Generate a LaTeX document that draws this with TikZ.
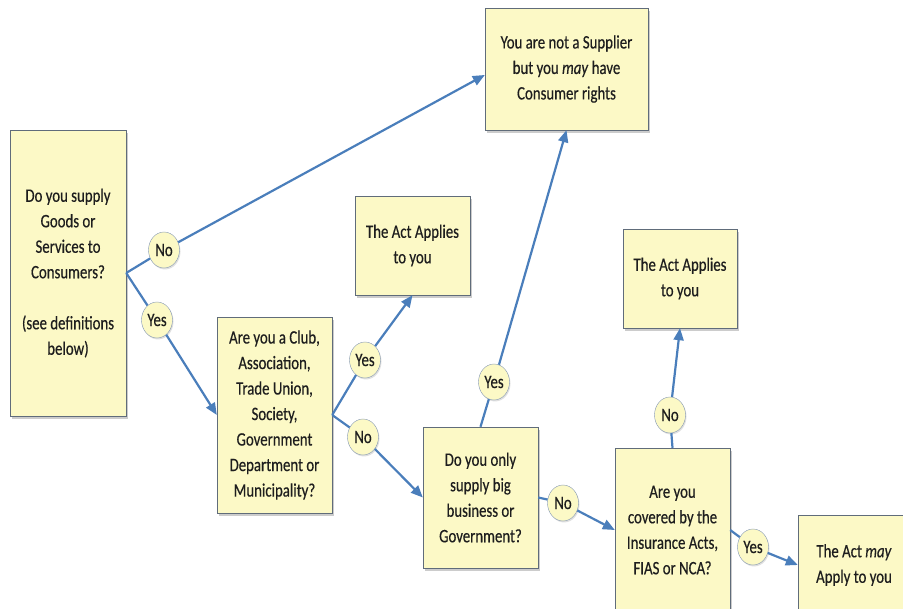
\documentclass[tikz,border=0pt]{standalone}
\usepackage{fontspec}
\setmainfont{Carlito}[FakeStretch=0.78, FakeBold=0.4]
\usepackage{xcolor}
\usepackage{tikz}
\usetikzlibrary{shapes.geometric, arrows.meta, shadows}

\definecolor{boxfill}{RGB}{252,249,198}
\definecolor{boxline}{RGB}{96,108,122}
\definecolor{flowblue}{RGB}{74,126,187}
\definecolor{tagline}{RGB}{130,150,180}
\definecolor{inktext}{RGB}{30,30,30}

\begin{document}
\begin{tikzpicture}[x=1pt, y=-1pt, font=\fontsize{19}{25.5}\selectfont, text=inktext]
\tikzstyle{question} = [rectangle, draw=boxline, fill=boxfill, align=center, inner sep=2pt, drop shadow={shadow xshift=2pt, shadow yshift=-3pt, opacity=0.4}]
\tikzstyle{answer} = [ellipse, draw=tagline, fill=boxfill, inner sep=0pt, minimum width=31pt, minimum height=36pt, drop shadow={shadow xshift=1pt, shadow yshift=-1.5pt, opacity=0.25}]
\tikzstyle{arrow} = [line width=2.2pt, draw=flowblue, -{Triangle[length=12pt, width=10pt]}]

\clip (0,0) rectangle (903,609);

\node (supply) [question, minimum width=116pt, minimum height=286pt] at (68,273) {Do you supply\\Goods or\\Services to\\Consumers?\\[25.5pt](see definitions\\below)};
\node (notsupplier) [question, minimum width=163pt, minimum height=122pt] at (566.5,69) {You are not a Supplier\\but you \textit{may} have\\Consumer rights};
\node (applies1) [question, minimum width=115pt, minimum height=99pt] at (412.5,245.5) {The Act Applies\\to you};
\node (club) [question, minimum width=115pt, minimum height=196pt] at (274.5,415) {Are you a Club,\\Association,\\Trade Union,\\Society,\\Government\\Department or\\Municipality?};
\node (bigbiz) [question, minimum width=115pt, minimum height=141pt] at (480.5,497.5) {Do you only\\supply big\\business or\\Government?};
\node (applies2) [question, minimum width=114pt, minimum height=99pt] at (680,278.5) {The Act Applies\\to you};
\node (insurance) [question, minimum width=115pt, minimum height=164pt] at (672.5,530) {Are you\\covered by the\\Insurance Acts,\\FIAS or NCA?};
\node (mayapply) [question, minimum width=112pt, minimum height=100pt] at (854,565) {The Act \textit{may}\\Apply to you};

\node (no1) [answer] at (164,250) {No};
\node (yes1) [answer] at (157,320) {Yes};
\node (yes2) [answer] at (365,360) {Yes};
\node (no2) [answer] at (363,437) {No};
\node (yes3) [answer] at (494,382) {Yes};
\node (no3) [answer] at (563,503) {No};
\node (no4) [answer] at (670,415) {No};
\node (yes4) [answer] at (753,547) {Yes};

\draw [arrow] (supply.east) -- (no1) -- ([yshift=-6pt]notsupplier.west);
\draw [arrow] (supply.east) -- (yes1) -- (club.west);
\draw [arrow] (club.east) -- (yes2) -- (applies1.south);
\draw [arrow] (club.east) -- (no2) -- (bigbiz.west);
\draw [arrow] (bigbiz.north) -- (yes3) -- (notsupplier.south);
\draw [arrow] (bigbiz.east) -- (no3) -- (insurance.west);
\draw [arrow] (insurance.north) -- (no4) -- (applies2.south);
\draw [arrow] (insurance.east) -- (yes4) -- (mayapply.west);
\end{tikzpicture}
\end{document}
